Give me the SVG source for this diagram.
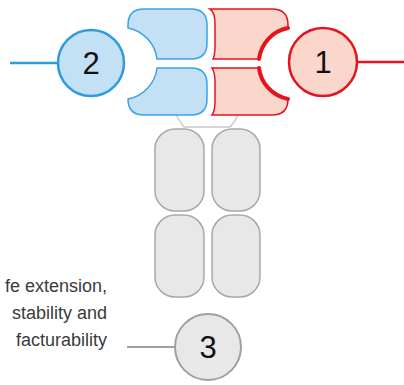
<svg xmlns="http://www.w3.org/2000/svg" width="404" height="385" viewBox="0 0 404 385">
<style>
.blue{fill:#c3e0f5;stroke:#38a3e6;stroke-width:1.5}
.red{fill:#fbd6ca;stroke:#e3141f;stroke-width:1.5}
.redarc{fill:none;stroke:#e3141f;stroke-width:4;stroke-linecap:round}
.gray{fill:#e8e8e8;stroke:#a8a8a8;stroke-width:1.5}
.num{font-family:"Liberation Sans",Arial,sans-serif;font-size:31px;fill:#111;text-anchor:middle}
.lbl{font-family:"Liberation Sans",Arial,sans-serif;font-size:18px;fill:#3a3a3a;text-anchor:end}
</style>
<g id="connectors" fill="none">
<line x1="10" y1="63" x2="58" y2="63" stroke="#2e9be0" stroke-width="2.5"/>
<line x1="357" y1="62" x2="404" y2="62" stroke="#e3141f" stroke-width="2.5"/>
<line x1="127" y1="347" x2="175" y2="347" stroke="#a0a0a0" stroke-width="2"/>
<path d="M176,115 Q180,122 184,127 L230,127 Q235,122 238,115" stroke="#c9c9c9" stroke-width="1.5"/>
</g>
<g id="blue-top"><path class="blue" d="M128,28 L128,25 Q128,9 144,9 L191,9 Q207,9 207,25 L207,43 Q207,59 191,59 L157,59 A36,36 0 0 0 128,28 Z"/></g>
<g id="blue-bottom"><path class="blue" d="M157,68 L191,68 Q207,68 207,84 L207,99 Q207,115 191,115 L144,115 Q128,115 128,99 A36,36 0 0 0 157,68 Z"/></g>
<g id="red-top"><path class="red" d="M210,9 L272,9 Q288,9 288,25 L288,28 A36,36 0 0 0 259,59 L213,59 Q215,55 215,46 L215,24 Q215,12 210,9 Z"/><path class="redarc" d="M288,28 A36,36 0 0 0 259,59"/></g>
<g id="red-bottom"><path class="red" d="M212,68 L259,68 A36,36 0 0 0 288,99 Q288,115 272,115 L212,115 Q215,111 215,101 L215,82 Q215,72 212,68 Z"/><path class="redarc" d="M259,68 A36,36 0 0 0 288,99"/></g>
<g id="fc-top-left"><rect class="gray" x="155" y="129" width="49" height="82" rx="20"/></g>
<g id="fc-top-right"><rect class="gray" x="212" y="129" width="48" height="82" rx="20"/></g>
<g id="fc-bottom-left"><rect class="gray" x="155" y="215" width="49" height="82" rx="20"/></g>
<g id="fc-bottom-right"><rect class="gray" x="212" y="215" width="48" height="82" rx="20"/></g>
<g id="node-2"><circle cx="91" cy="63" r="33" fill="#c3e0f5" stroke="#2e9be0" stroke-width="2.5"/><text class="num" x="91" y="74">2</text></g>
<g id="node-1"><circle cx="323" cy="62" r="34" fill="#fbd6ca" stroke="#e3141f" stroke-width="2.5"/><text class="num" x="323" y="73">1</text></g>
<g id="node-3"><circle cx="208" cy="347" r="33" fill="#e8e8e8" stroke="#a0a0a0" stroke-width="2"/><text class="num" x="208" y="358">3</text></g>
<g id="label-3"><text class="lbl" x="107" y="292">fe extension,</text><text class="lbl" x="107" y="319">stability and</text><text class="lbl" x="107" y="346">facturability</text></g>
</svg>
